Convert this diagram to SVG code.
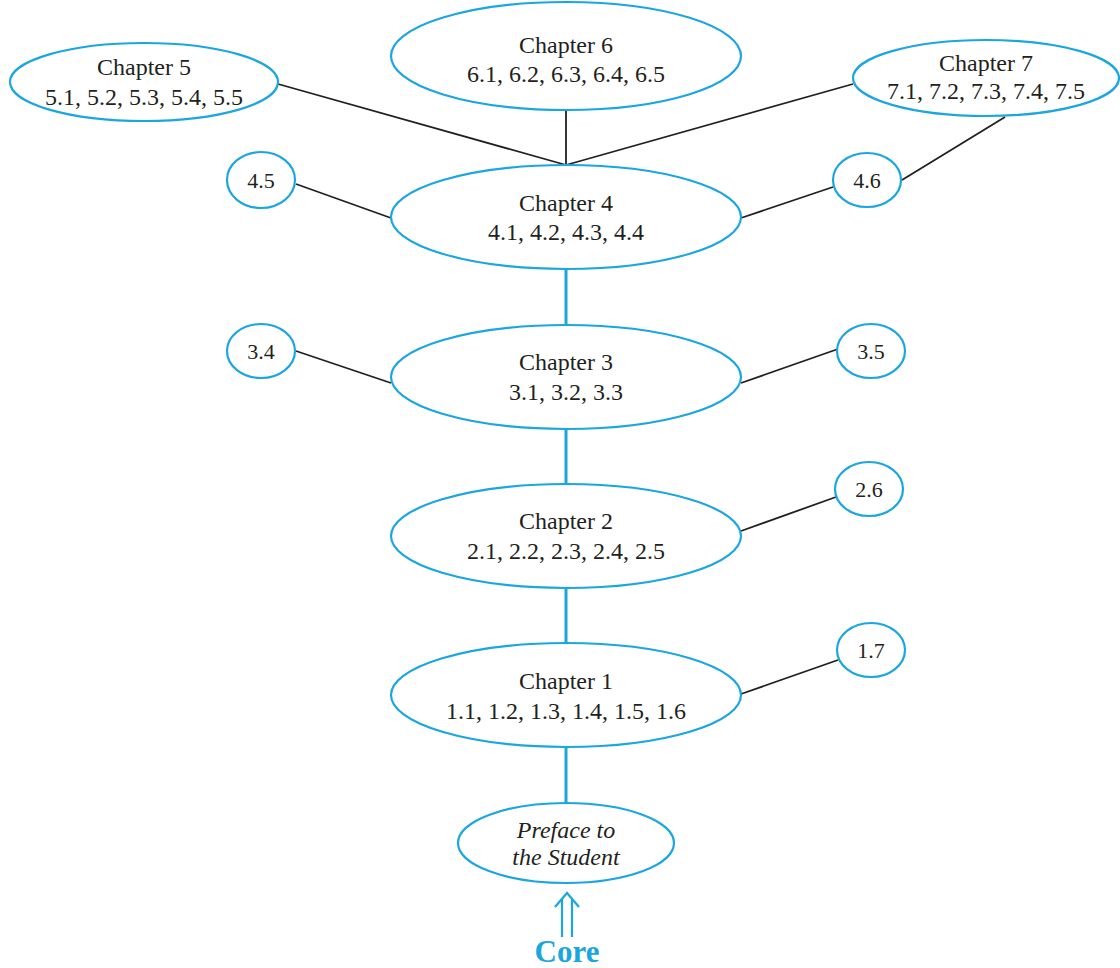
<svg xmlns="http://www.w3.org/2000/svg" width="1120" height="968" viewBox="0 0 1120 968">
<style>
.n{fill:#fff;stroke:#1ba6e0;stroke-width:2.2}
.t{font-family:"Liberation Serif",serif;font-size:24px;fill:#231f20;text-anchor:middle}
.s{font-family:"Liberation Serif",serif;font-size:22px;fill:#231f20;text-anchor:middle}
.k{stroke:#231f20;stroke-width:1.8;fill:none}
.b{stroke:#1ba6e0;stroke-width:3;fill:none}
</style>
<rect width="1120" height="968" fill="#fff"/>
<g id="connectors">
<line class="k" x1="278" y1="84" x2="566" y2="165"/>
<line class="k" x1="566" y1="110" x2="566" y2="165"/>
<line class="k" x1="853" y1="84" x2="566" y2="165"/>
<line class="k" x1="1005" y1="117" x2="902" y2="180"/>
<line class="k" x1="296" y1="184" x2="391" y2="218"/>
<line class="k" x1="741" y1="218" x2="833" y2="187"/>
<line class="k" x1="296" y1="351" x2="391" y2="383"/>
<line class="k" x1="741" y1="383" x2="838" y2="349"/>
<line class="k" x1="741" y1="531" x2="836" y2="497"/>
<line class="k" x1="741" y1="694" x2="838" y2="660"/>
<line class="b" x1="566" y1="269" x2="566" y2="325"/>
<line class="b" x1="566" y1="429" x2="566" y2="484"/>
<line class="b" x1="566" y1="588" x2="566" y2="643"/>
<line class="b" x1="566" y1="747" x2="566" y2="803"/>
<g stroke="#1ba6e0" stroke-width="2.2" fill="none">
<line x1="562" y1="899" x2="562" y2="937"/>
<line x1="572" y1="899" x2="572" y2="937"/>
<path d="M555 907 L567 893 L579 907"/>
</g>
</g>
<g id="ch6"><ellipse class="n" cx="566" cy="56" rx="175" ry="54"/><text class="t" x="566" y="53">Chapter 6</text><text class="t" x="566" y="82">6.1, 6.2, 6.3, 6.4, 6.5</text></g>
<g id="ch5"><ellipse class="n" cx="144" cy="82" rx="134" ry="39"/><text class="t" x="144" y="75">Chapter 5</text><text class="t" x="144" y="105">5.1, 5.2, 5.3, 5.4, 5.5</text></g>
<g id="ch7"><ellipse class="n" cx="986" cy="78" rx="133" ry="38"/><text class="t" x="986" y="71">Chapter 7</text><text class="t" x="986" y="99">7.1, 7.2, 7.3, 7.4, 7.5</text></g>
<g id="ch4"><ellipse class="n" cx="566" cy="217" rx="175" ry="52"/><text class="t" x="566" y="211">Chapter 4</text><text class="t" x="566" y="240">4.1, 4.2, 4.3, 4.4</text></g>
<g id="ch3"><ellipse class="n" cx="566" cy="377" rx="175" ry="52"/><text class="t" x="566" y="370">Chapter 3</text><text class="t" x="566" y="400">3.1, 3.2, 3.3</text></g>
<g id="ch2"><ellipse class="n" cx="566" cy="536" rx="175" ry="52"/><text class="t" x="566" y="529">Chapter 2</text><text class="t" x="566" y="559">2.1, 2.2, 2.3, 2.4, 2.5</text></g>
<g id="ch1"><ellipse class="n" cx="566" cy="695" rx="175" ry="52"/><text class="t" x="566" y="689">Chapter 1</text><text class="t" x="566" y="719">1.1, 1.2, 1.3, 1.4, 1.5, 1.6</text></g>
<g id="preface"><ellipse class="n" cx="566" cy="843" rx="108" ry="40"/><text class="t" x="566" y="838" font-style="italic">Preface to</text><text class="t" x="566" y="865" font-style="italic">the Student</text></g>
<g id="s45"><ellipse class="n" cx="261" cy="180" rx="34" ry="28"/><text class="s" x="261" y="188">4.5</text></g>
<g id="s46"><ellipse class="n" cx="867" cy="180" rx="34" ry="27"/><text class="s" x="867" y="188">4.6</text></g>
<g id="s34"><ellipse class="n" cx="261" cy="351" rx="34" ry="27"/><text class="s" x="261" y="359">3.4</text></g>
<g id="s35"><ellipse class="n" cx="871" cy="351" rx="34" ry="27"/><text class="s" x="871" y="359">3.5</text></g>
<g id="s26"><ellipse class="n" cx="869" cy="489" rx="34" ry="27"/><text class="s" x="869" y="497">2.6</text></g>
<g id="s17"><ellipse class="n" cx="871" cy="650" rx="34" ry="27"/><text class="s" x="871" y="658">1.7</text></g>
<g id="core"><text x="567" y="962" font-family="Liberation Serif,serif" font-size="31" font-weight="bold" fill="#1ba6e0" text-anchor="middle">Core</text></g>
</svg>
